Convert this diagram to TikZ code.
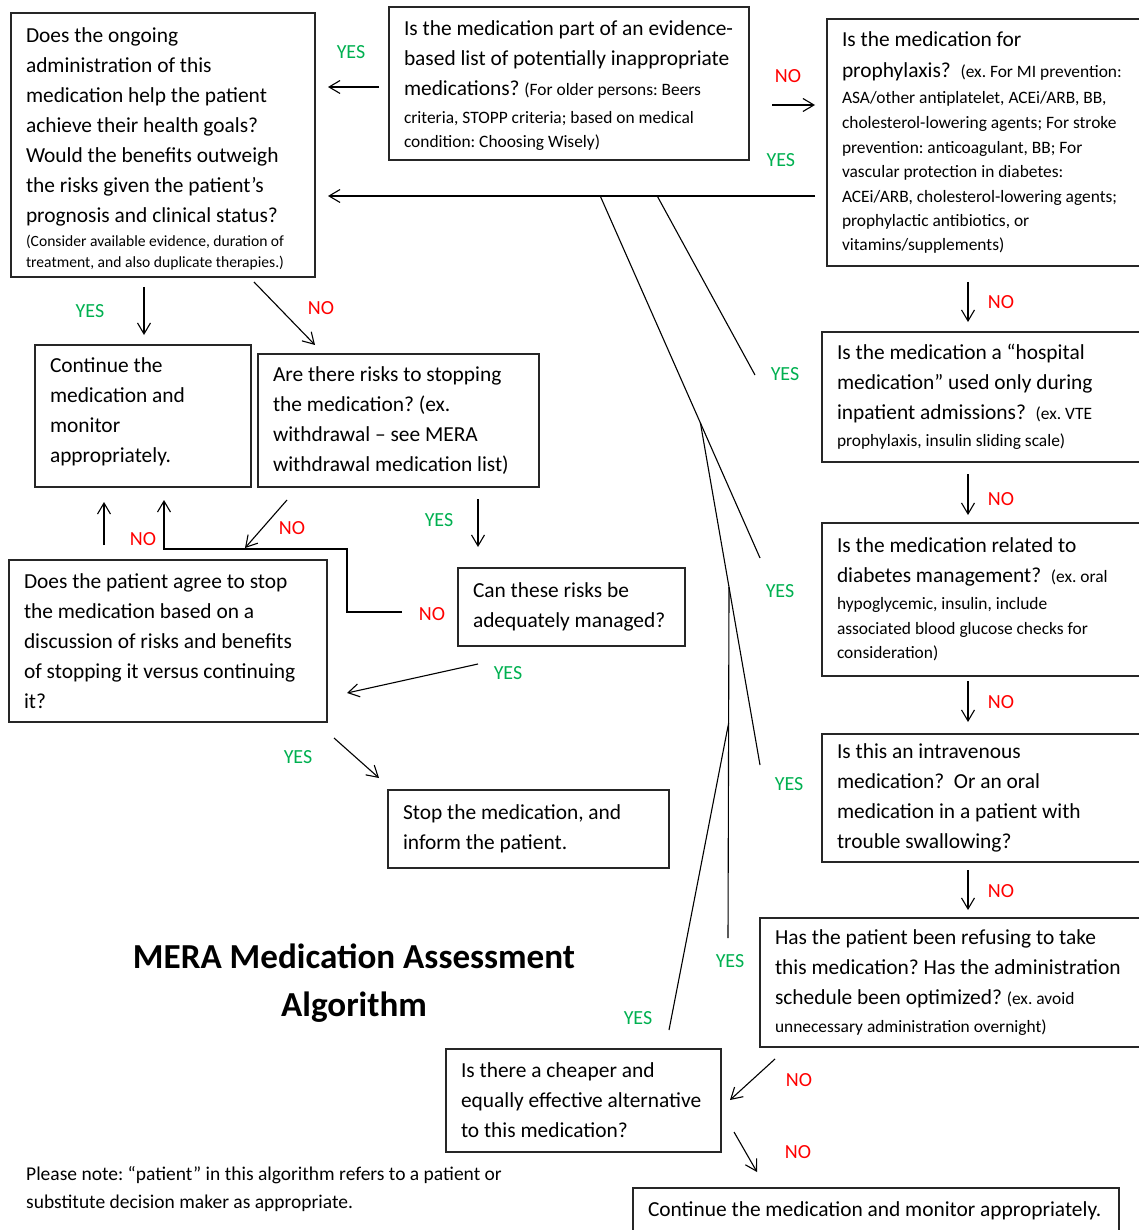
\documentclass[tikz,border=0pt]{standalone}
\usepackage{fontspec}
\setmainfont{Carlito}
\usepackage{tikz}
\usetikzlibrary{arrows.meta,calc}
\definecolor{yesgreen}{HTML}{00B050}
\definecolor{nored}{HTML}{FF0000}
\newcommand{\sm}[1]{{\fontsize{17.4}{20}\selectfont #1}}
\newcommand{\smA}[1]{{\fontsize{15.6}{20}\selectfont #1}}

\begin{document}
\begin{tikzpicture}[x=1pt,y=-1pt,
  wordspace/.style={execute at begin node={\spaceskip=0pt\xspaceskip=0pt\frenchspacing}},
  box/.style={draw=black!85,line width=1.4pt,anchor=north west,align=left,inner xsep=15pt,inner ysep=0pt,outer sep=0pt,font=\fontsize{21.4}{30}\selectfont,wordspace},
  arr/.style={-{Straight Barb[length=11pt,width=13pt]},line width=1.1pt},
  trunk/.style={line width=1.1pt},
  yes/.style={text=yesgreen,font=\fontsize{20}{24}\selectfont,inner sep=0pt},
  no/.style={text=nored,font=\fontsize{20}{24}\selectfont,inner sep=0pt},
]
\useasboundingbox (0,0) rectangle (1138,1230);

\node[box,text width=274pt,minimum height=264pt] (goals) at (11,13) {\rule{0pt}{22pt}Does the ongoing\\
administration of this\\
medication help the patient\\
achieve their health goals?\\
Would the benefits outweigh\\
the risks given the patient’s\\
prognosis and clinical status?\\[-6pt]
\smA{(Consider available evidence, duration of}\\[-9pt]
\smA{treatment, and also duplicate therapies.)}};
\node[box,text width=330pt,minimum height=153pt] (list) at (389,7) {\rule{0pt}{19pt}Is the medication part of an evidence-\\
based list of potentially inappropriate\\
medications? \sm{(For older persons: Beers}\\[-2pt]
\sm{criteria, STOPP criteria; based on medical}\\[-6pt]
\sm{condition: Choosing Wisely)}};
\node[box,text width=303pt,minimum height=247pt] (proph) at (827,19) {Is the medication for\\[1pt]
prophylaxis?~~\sm{(ex. For MI prevention:}\\[-4pt]
\sm{ASA/other antiplatelet, ACEi/ARB, BB,}\\[-5pt]
\sm{cholesterol-lowering agents; For stroke}\\[-5pt]
\sm{prevention: anticoagulant, BB; For}\\[-6pt]
\sm{vascular protection in diabetes:}\\[-5pt]
\sm{ACEi/ARB, cholesterol-lowering agents;}\\[-6pt]
\sm{prophylactic antibiotics, or}\\[-6pt]
\sm{vitamins/supplements)}};
\node[box,text width=186pt,minimum height=142pt] (cont) at (35,345) {Continue the\\ medication and\\ monitor\\ appropriately.\rule[-11pt]{0pt}{0pt}};
\node[box,text width=251pt,minimum height=133pt] (risks) at (258,354) {Are there risks to stopping\\ the medication? (ex.\\ withdrawal – see MERA\\ withdrawal medication list)};
\node[box,text width=308pt,minimum height=130pt] (hosp) at (822,332) {Is the medication a “hospital\\
medication” used only during\\
inpatient admissions?~~\sm{(ex. VTE}\\[-3pt]
\sm{prophylaxis, insulin sliding scale)}};
\node[box,text width=308pt,minimum height=153pt] (diab) at (822,523) {Is the medication related to\\
diabetes management?~~\sm{(ex. oral}\\[-3pt]
\sm{hypoglycemic, insulin, include}\\[-5pt]
\sm{associated blood glucose checks for}\\[-6pt]
\sm{consideration)}};
\node[box,text width=288pt,minimum height=162pt] (agree) at (9,560) {Does the patient agree to stop\\ the medication based on a\\ discussion of risks and benefits\\ of stopping it versus continuing\\ it?};
\node[box,text width=197pt,minimum height=78pt] (manage) at (458,568) {Can these risks be\\ adequately managed?};
\node[box,text width=251pt,minimum height=78pt] (stop) at (388,790) {Stop the medication, and\\ inform the patient.};
\node[box,text width=308pt,minimum height=128pt] (iv) at (822,734) {Is this an intravenous\\ medication?~~Or an oral\\ medication in a patient with\\ trouble swallowing?};
\node[box,text width=370pt,minimum height=129pt] (refuse) at (760,918) {Has the patient been refusing to take\\
this medication? Has the administration\\
schedule been optimized? \sm{(ex. avoid}\\[-2pt]
\sm{unnecessary administration overnight)}};
\node[box,text width=245pt,minimum height=103pt] (cheap) at (446,1049) {Is there a cheaper and\\ equally effective alternative\\ to this medication?};
\node[box,text width=456pt,minimum height=46pt] (final) at (633,1188) {Continue the medication and monitor appropriately.};

\node[font=\bfseries\fontsize{35.1}{48}\selectfont,align=center,wordspace] (title) at (354,983.5) {MERA Medication Assessment\\Algorithm};
\node[anchor=west,align=left,inner sep=0pt,font=\fontsize{19.5}{28}\selectfont,wordspace] (note) at (26,1189) {Please note: “patient” in this algorithm refers to a patient or\\substitute decision maker as appropriate.};

\draw[arr] ([shift={(-10,3.5)}]list.west) -- node[yes,shift={(-2.5,-35)}]{YES} ([shift={(13,-58)}]goals.east);
\draw[arr] ([shift={(23,21.5)}]list.east) -- node[no,shift={(-5.5,-29)}]{NO} ([shift={(-12,-37.5)}]proph.west);
\draw[arr] ([shift={(-12,53.5)}]proph.west) -- node[yes,pos=0.07,shift={(0,-36)}]{YES} coordinate[pos=0.324] (jF) coordinate[pos=0.441] (jG) ([shift={(13,51)}]goals.east);
\draw[arr] ([shift={(-19,10)}]goals.south) -- node[yes,shift={(-54,0)}]{YES} ([shift={(1,-10)}]cont.north);
\draw[arr] ([shift={(-61,5)}]goals.south east) -- node[no,shift={(36.5,-5.5)}]{NO} ([shift={(57,-9)}]risks.north west);
\draw[arr] ([shift={(141,16)}]proph.south west) -- node[no,shift={(33,0)}]{NO} ([shift={(146,-10)}]hosp.north west);
\draw[arr] ([shift={(146,12)}]hosp.south west) -- node[no,shift={(33,4.5)}]{NO} ([shift={(146,-8)}]diab.north west);
\draw[arr] ([shift={(146,5)}]diab.south west) -- node[no,shift={(33,0.5)}]{NO} ([shift={(146,-12)}]iv.north west);
\draw[arr] ([shift={(146,8)}]iv.south west) -- node[no,shift={(33,1)}]{NO} ([shift={(208,-8)}]refuse.north west);
\draw[arr] ([shift={(15,12)}]refuse.south west) -- node[no,shift={(46.5,0.5)}]{NO} ([shift={(9,-0.5)}]cheap.east);
\draw[arr] ([shift={(13,-20)}]cheap.south east) -- node[no,shift={(52.5,0)}]{NO} ([shift={(124,-16)}]final.north west);
\draw[arr] ([shift={(79.5,12)}]risks.south) -- node[yes,shift={(-39,-3)}]{YES} ([shift={(-93.5,-21)}]manage.north);
\draw[arr] ([shift={(29,13)}]risks.south west) -- node[no,shift={(26,4)}]{NO} ([shift={(-82,-12)}]agree.north east);
\draw[arr] ([shift={(-56,5)}]manage.west) node[no,shift={(30,2)}]{NO} -- ++(-55,0) -- ++(0,-63) -| ([shift={(21,13)}]cont.south);
\draw[arr] ([shift={(-64,-15)}]agree.north) -- node[no,shift={(39,15.5)}]{NO} ([shift={(-39,15)}]cont.south);
\draw[arr] ([shift={(-93.5,18)}]manage.south) -- node[yes,pos=0,shift={(30,9)}]{YES} ([shift={(20,52)}]agree.east);
\draw[arr] ([shift={(7,16)}]agree.south east) -- node[yes,shift={(-58.5,-1)}]{YES} ([shift={(-9,-12)}]stop.north west);

\draw[trunk] ([shift={(-67,-22)}]hosp.west) node[yes,shift={(30,-1)}]{YES} -- (jF);
\draw[trunk] ([shift={(-62,-41.5)}]diab.west) node[yes,shift={(20,33)}]{YES} -- coordinate[pos=0.373] (jK) (jG);
\draw[trunk] ([shift={(-62,-33)}]iv.west) node[yes,shift={(29,19)}]{YES} -- coordinate[pos=0.52] (jL) (jK);
\draw[trunk] ([shift={(-32,-44.5)}]refuse.west) node[yes,shift={(2,23)}]{YES} -- coordinate[pos=0.6125] (jM) (jL);
\draw[trunk] ([shift={(-52,-19)}]cheap.north east) node[yes,shift={(-31,-12)}]{YES} -- (jM);
\end{tikzpicture}
\end{document}
